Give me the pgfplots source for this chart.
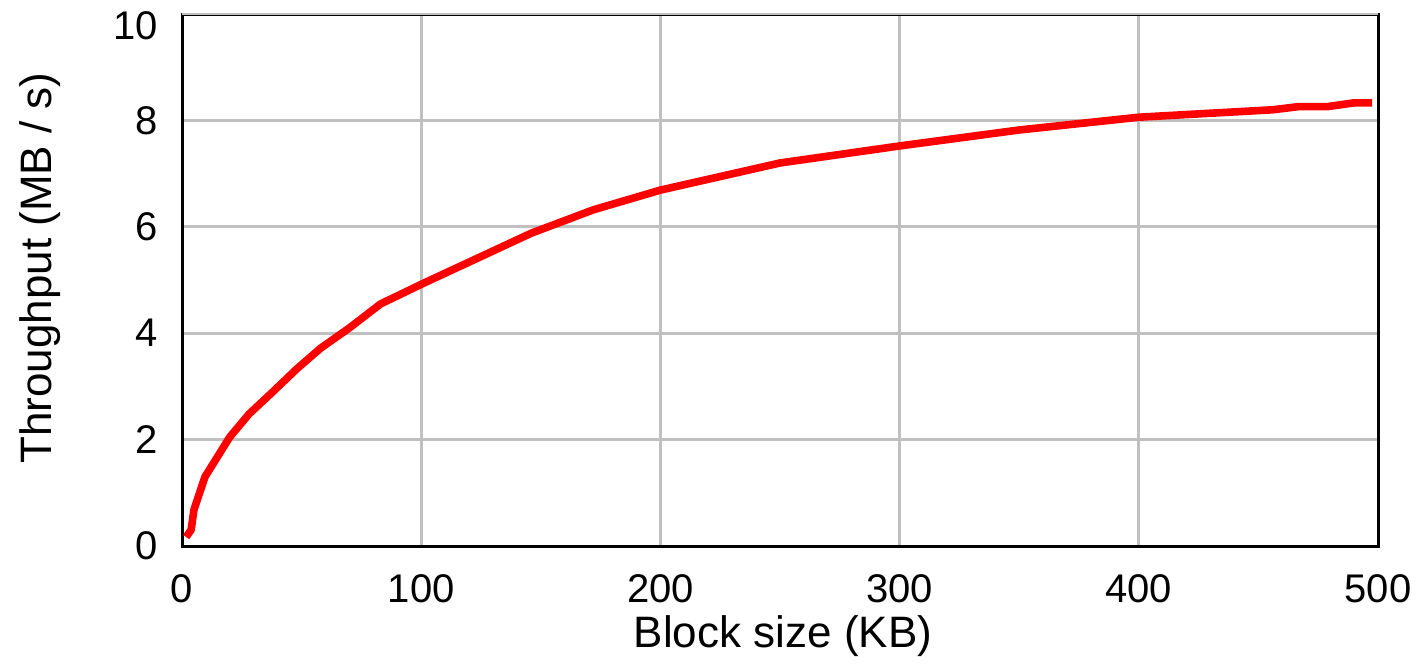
\documentclass[border=0pt]{standalone}
\usepackage{pgfplots}
\pgfplotsset{compat=1.18}
\usepackage{fontspec}
\setmainfont{Liberation Sans}
\definecolor{gridgray}{RGB}{192,192,192}
\begin{document}
\begin{tikzpicture}
\begin{axis}[
  scale only axis,
  width=299pt, height=133pt,
  xmin=0, xmax=500, ymin=0, ymax=10,
  xtick={0,100,200,300,400,500},
  ytick={0,2,4,6,8},
  extra y ticks={10},
  extra y tick style={yticklabel style={yshift=-3pt}},
  major tick length=0pt,
  grid=major,
  grid style={gridgray, line width=0.67pt},
  axis line style={black, line width=0.75pt},
  /pgf/number format/assume math mode=true,
  ticklabel style={font=\fontsize{10}{12}\selectfont},
  yticklabel style={anchor=east, xshift=-2.5pt},
  xticklabel style={anchor=north, yshift=-3.7pt},
  xlabel={Block size (KB)},
  ylabel={Throughput (MB / s)},
  label style={font=\fontsize{11}{13}\selectfont},
  xlabel style={at={(axis description cs:0.5025,0)}, anchor=center, yshift=-22.5pt},
  ylabel style={at={(axis description cs:-0.1187,0.5226)}, anchor=center, rotate=0},
  clip=false,
]
\addplot[red, line width=1.9pt, line join=round] coordinates {
(1.7,0.17) (3.8,0.3) (5,0.68) (9.6,1.3) (20,2.05) (28,2.48) (38,2.9)
(48,3.33) (58,3.72) (70,4.1) (83,4.55) (101,4.94) (124,5.42) (146,5.88)
(172,6.32) (200,6.69) (250,7.2) (300,7.52) (350,7.82) (400,8.06)
(456,8.2) (467,8.26) (479,8.26) (490,8.33) (497.5,8.33)
};
\end{axis}
\pgfresetboundingbox
\path ([xshift=-45.5pt,yshift=-30pt]current axis.south west) rectangle ([xshift=11pt,yshift=3.5pt]current axis.north east);
\end{tikzpicture}
\end{document}
